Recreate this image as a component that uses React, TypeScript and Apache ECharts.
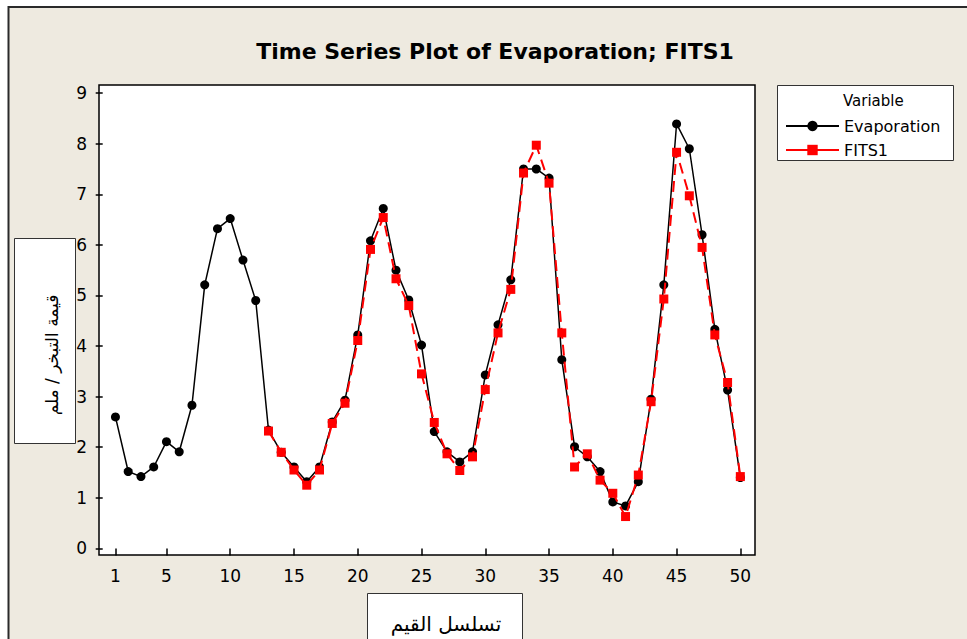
import React, { useEffect, useRef } from "react";
import * as echarts from "echarts";

// Time index (observation number)
const timeIndex: number[] = Array.from({ length: 50 }, (_, i) => i + 1);

const evaporation: number[] = [
  2.6, 1.52, 1.42, 1.61, 2.11, 1.91, 2.83, 5.21, 6.32, 6.52,
  5.7, 4.9, 2.34, 1.9, 1.61, 1.32, 1.61, 2.5, 2.93, 4.22,
  6.08, 6.72, 5.5, 4.91, 4.02, 2.31, 1.91, 1.71, 1.91, 3.43,
  4.42, 5.31, 7.5, 7.5, 7.32, 3.73, 2.01, 1.81, 1.52, 0.92,
  0.84, 1.32, 2.95, 5.21, 8.39, 7.9, 6.2, 4.33, 3.13, 1.4,
];

const fits1: (number | null)[] = [
  null, null, null, null, null, null, null, null, null, null,
  null, null, 2.32, 1.9, 1.55, 1.25, 1.55, 2.47, 2.87, 4.11,
  5.91, 6.54, 5.33, 4.8, 3.45, 2.49, 1.87, 1.54, 1.81, 3.14,
  4.26, 5.12, 7.42, 7.97, 7.22, 4.26, 1.61, 1.87, 1.35, 1.09,
  0.63, 1.45, 2.9, 4.93, 7.83, 6.97, 5.95, 4.22, 3.28, 1.42,
];

const xTicks: number[] = [1, 5, 10, 15, 20, 25, 30, 35, 40, 45, 50];
const yTicks: number[] = [0, 1, 2, 3, 4, 5, 6, 7, 8, 9];

const titleText = "Time Series Plot of Evaporation; FITS1";
const yTitle = "قيمة التبخر / ملم";
const xTitle = "تسلسل القيم";
const legendTitle = "Variable";

const BG = "#EEEAE0";
const FONT = "DejaVu Sans";

export default function App() {
  const ref = useRef<HTMLDivElement>(null);

  useEffect(() => {
    if (!ref.current) return;
    const chart = echarts.init(ref.current, undefined, { renderer: "svg" });

    const evapData = timeIndex.map((t, i) => [t, evaporation[i]]);
    const fitsData = timeIndex
      .map((t, i) => [t, fits1[i]])
      .filter((d) => d[1] !== null);

    chart.setOption({
      animation: false,
      backgroundColor: "#ffffff",
      textStyle: { fontFamily: FONT },
      title: {
        text: titleText,
        left: 490,
        top: 35,
        textAlign: "center",
        textStyle: {
          fontFamily: FONT,
          fontWeight: "bold",
          fontSize: 22,
          color: "#000",
        },
      },
      grid: {
        left: 99,
        top: 85,
        width: 656,
        height: 470,
        show: true,
        backgroundColor: "#ffffff",
        borderColor: "#000",
        borderWidth: 1.5,
        containLabel: false,
      },
      legend: {
        data: ["Evaporation", "FITS1"],
        orient: "vertical",
        left: 780,
        top: 113,
        z: 30,
        itemWidth: 53,
        itemHeight: 13,
        itemGap: 8,
        lineStyle: { type: "solid" },
        textStyle: {
          fontFamily: FONT,
          fontSize: 16,
          color: "#000",
        },
      },
      xAxis: {
        type: "value",
        min: -0.29,
        max: 51.15,
        axisLine: { show: false },
        splitLine: { show: false },
        axisTick: {
          show: true,
          length: 7,
          customValues: xTicks,
          lineStyle: { color: "#000", width: 1.5 },
        },
        axisLabel: {
          customValues: xTicks,
          fontFamily: FONT,
          fontSize: 17,
          color: "#000",
          margin: 12,
        },
      },
      yAxis: {
        type: "value",
        min: -0.13,
        max: 9.16,
        axisLine: { show: false },
        splitLine: { show: false },
        axisTick: {
          show: true,
          length: 7,
          customValues: yTicks,
          lineStyle: { color: "#000", width: 1.5 },
        },
        axisLabel: {
          customValues: yTicks,
          fontFamily: FONT,
          fontSize: 17,
          color: "#000",
          margin: 12,
        },
      },
      series: [
        {
          name: "Evaporation",
          type: "line",
          data: evapData,
          symbol: "circle",
          symbolSize: 9,
          itemStyle: { color: "#000" },
          lineStyle: { color: "#000", width: 1.5 },
          z: 2,
        },
        {
          name: "FITS1",
          type: "line",
          data: fitsData,
          symbol: "rect",
          symbolSize: 9,
          itemStyle: { color: "#ff0000" },
          lineStyle: { color: "#ff0000", width: 2, type: [11, 6] },
          z: 3,
        },
      ],
      graphic: [
        {
          type: "rect",
          z: -100,
          silent: true,
          shape: { x: 8.5, y: 7, width: 1000, height: 700 },
          style: { fill: BG, stroke: "#2a2a2a", lineWidth: 2 },
        },
        {
          type: "rect",
          z: 1,
          shape: { x: 14.5, y: 238.5, width: 61, height: 205 },
          style: { fill: "#fff", stroke: "#333", lineWidth: 1 },
        },
        {
          type: "text",
          z: 2,
          x: 52,
          y: 355,
          rotation: Math.PI / 2,
          style: {
            text: yTitle,
            fontFamily: FONT,
            fontSize: 17,
            fill: "#000",
            align: "center",
            verticalAlign: "middle",
          },
        },
        {
          type: "rect",
          z: 1,
          shape: { x: 367.5, y: 593.5, width: 155, height: 80 },
          style: { fill: "#fff", stroke: "#333", lineWidth: 1 },
        },
        {
          type: "text",
          z: 2,
          x: 446,
          y: 624,
          style: {
            text: xTitle,
            fontFamily: FONT,
            fontSize: 20,
            fill: "#000",
            align: "center",
            verticalAlign: "middle",
          },
        },
        {
          type: "rect",
          z: 1,
          shape: { x: 777.5, y: 85.5, width: 176, height: 75 },
          style: { fill: "#fff", stroke: "#333", lineWidth: 1 },
        },
        {
          type: "text",
          z: 2,
          x: 843,
          y: 101,
          style: {
            text: legendTitle,
            fontFamily: FONT,
            fontSize: 15,
            fill: "#000",
            align: "left",
            verticalAlign: "middle",
          },
        },
      ],
    });

    return () => chart.dispose();
  }, []);

  return (
    <div
      ref={ref}
      style={{ position: "fixed", left: 0, top: 0, width: 967, height: 639 }}
    />
  );
}
